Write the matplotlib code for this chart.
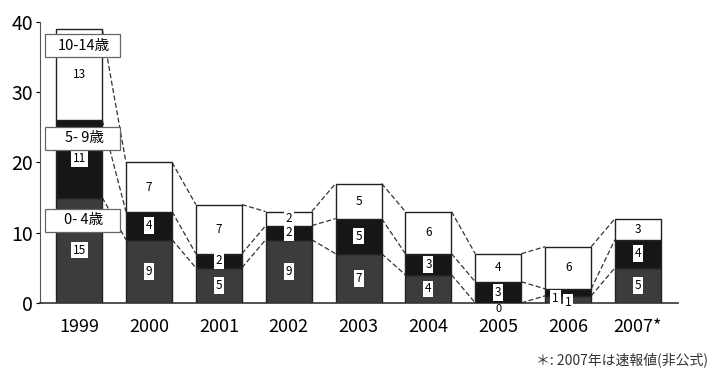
import numpy as np
import matplotlib
matplotlib.use("Agg")
from matplotlib import pyplot as plt
from matplotlib.patches import Rectangle

plt.rcParams['font.family'] = ['Noto Sans CJK JP', 'DejaVu Sans']

years = ['1999', '2000', '2001', '2002', '2003', '2004', '2005', '2006', '2007*']
age_0_4 = [15, 9, 5, 9, 7, 4, 0, 1, 5]
age_5_9 = [11, 4, 2, 2, 5, 3, 3, 1, 4]
age_10_14 = [13, 7, 7, 2, 5, 6, 4, 6, 3]
groups = ['0- 4歳', '5- 9歳', '10-14歳']

cols = ['#3c3c3c', '#161616', 'white']
W = 0.66

fig = plt.figure(figsize=(7.15, 3.73), dpi=100)
ax = fig.add_axes([0.056, 0.188, 0.892, 0.753])

x = np.arange(len(years))
series = [np.array(age_0_4), np.array(age_5_9), np.array(age_10_14)]
bottom = np.zeros(len(years))
tops = []
for s, c in zip(series, cols):
    ax.bar(x, s, W, bottom=bottom, color=c, edgecolor='#222222', linewidth=1.0, zorder=3)
    bottom = bottom + s
    tops.append(bottom.copy())

# dashed connectors between neighbouring bars
for t in tops:
    for i in range(len(years) - 1):
        ax.plot([x[i] + W / 2, x[i + 1] - W / 2], [t[i], t[i + 1]],
                ls=(0, (4, 2)), color='#333333', lw=0.9, zorder=2)

# value labels in small white boxes
box = dict(boxstyle='square,pad=0.15', fc='white', ec='none')
for k, s in enumerate(series):
    base = tops[k] - s
    for i, v in enumerate(s):
        xx, yy = x[i], base[i] + v / 2
        if v == 0:
            ax.text(xx, -0.9, str(v), ha='center', va='center', fontsize=8,
                    zorder=5, clip_on=False)
            continue
        if years[i] == '2006' and k < 2:
            xx = x[i] - 0.18 if k == 0 else x[i]
            yy = 0.6 if k == 0 else 0.1
        ax.text(xx, yy, str(v), ha='center', va='center', fontsize=8.5,
                bbox=box, zorder=5, clip_on=False)

# group labels on the first bar
label_y = [11.75, 23.45, 36.65]
bw, bh = 1.08, 3.3
for g, yy in zip(groups, label_y):
    ax.add_patch(Rectangle((x[0] + 0.05 - bw / 2, yy - bh / 2), bw, bh,
                           fc='white', ec='#666666', lw=0.9, zorder=6))
    ax.text(x[0] + 0.07, yy, g, ha='center', va='center', fontsize=10.5, zorder=7)

ax.set_xlim(-0.56, 8.57)
ax.set_ylim(0, 40)
ax.set_yticks([0, 10, 20, 30, 40])
ax.set_xticks(x)
ax.set_xticklabels(years, fontsize=13)
ax.tick_params(axis='y', labelsize=14, length=3, pad=2)
ax.tick_params(axis='x', length=0, pad=11)
for sp in ['top', 'right']:
    ax.spines[sp].set_visible(False)
ax.spines['left'].set_color('#555555')
ax.spines['bottom'].set_color('#333333')
ax.spines['bottom'].set_linewidth(1.2)

fig.text(0.99, 0.015, '＊: 2007年は速報値(非公式)', ha='right', va='bottom', fontsize=10, color='#333333')

fig.savefig('out.png', dpi=100)
